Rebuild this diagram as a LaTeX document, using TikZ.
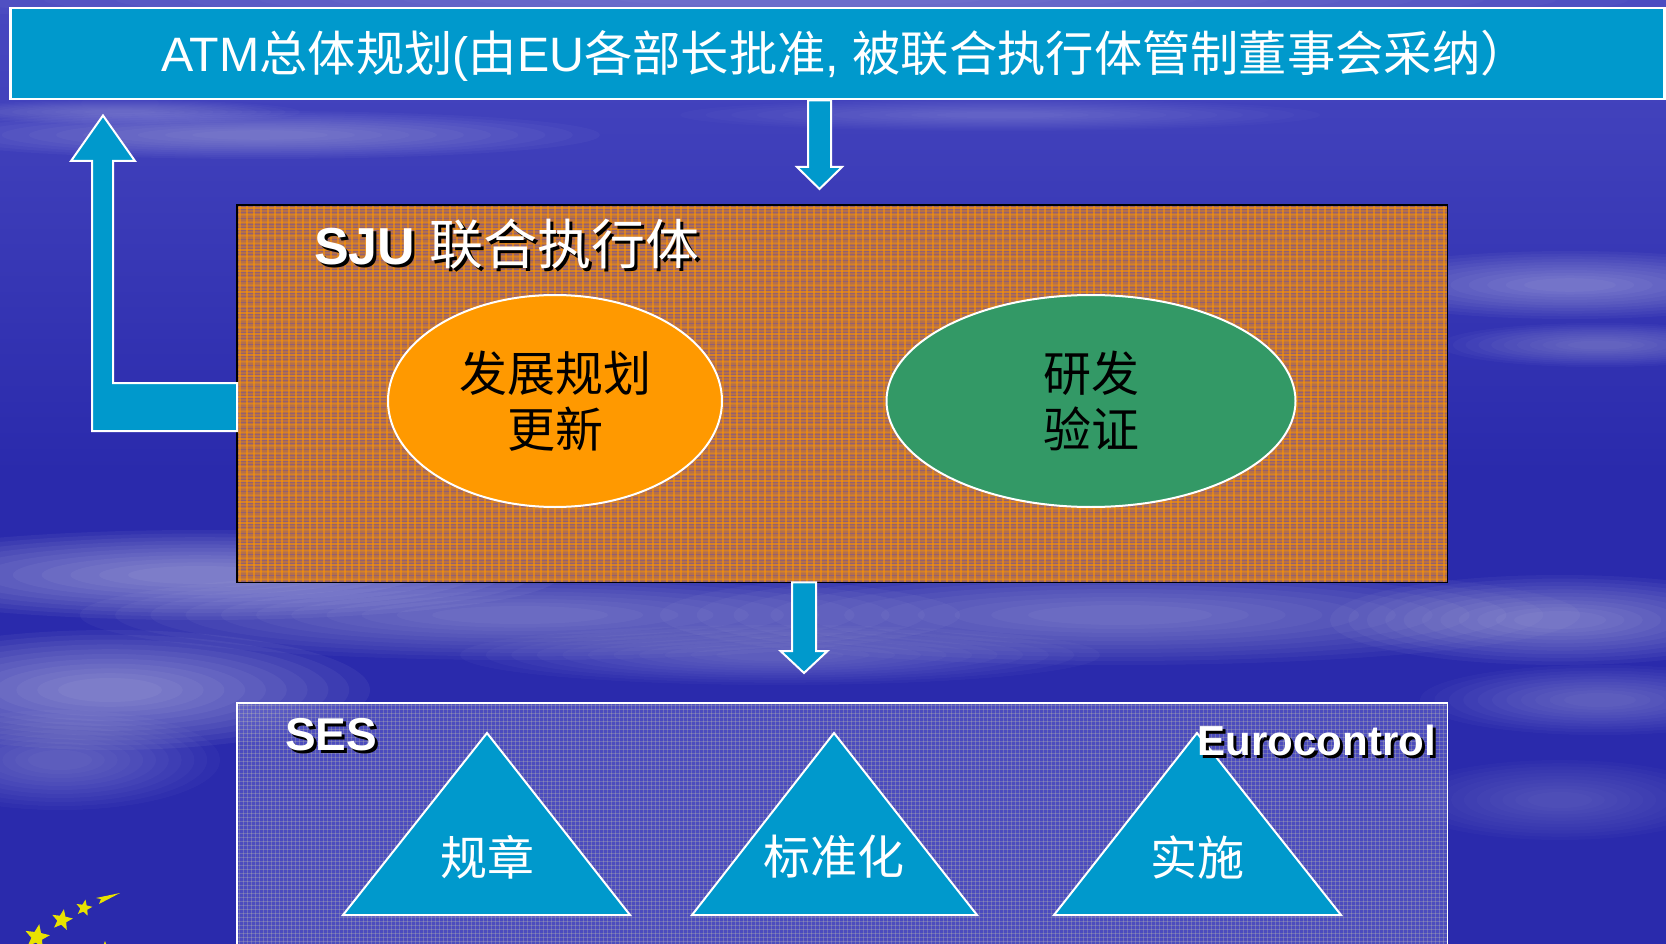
\documentclass[tikz,border=0pt]{standalone}
\usepackage{fontspec}
\setmainfont{Liberation Sans}
\newfontfamily\cjk{Noto Sans CJK SC}
\usetikzlibrary{shapes.geometric,calc}
\definecolor{bgblue}{RGB}{42,42,172}
\definecolor{bgtop}{RGB}{72,72,192}
\definecolor{cyanbox}{RGB}{0,153,204}
\definecolor{orangeE}{RGB}{255,153,0}
\definecolor{greenE}{RGB}{51,153,102}
\definecolor{sjubase}{RGB}{182,112,72}
\definecolor{sjuline}{RGB}{112,82,160}
\definecolor{sjuorange}{RGB}{255,150,0}
\definecolor{sesbase}{RGB}{104,104,206}
\definecolor{sesline}{RGB}{232,232,170}
\definecolor{staryellow}{RGB}{232,226,0}
\newcommand\cloudpuff[5]{%
  \foreach \k in {1.0,0.92,...,0.15}{\fill[white,opacity=#5*0.4] (#1,#2) ellipse ({#3*\k} and {#4*\k});}}
\newcommand\blkdown[5]{%
  \draw[blockarrow] ($(#1)+(-#4,0)$) -- ($(#2)+(-#4,-#3)$) -- ($(#2)+(-#5,-#3)$) -- (#2)
    -- ($(#2)+(#5,-#3)$) -- ($(#2)+(#4,-#3)$) -- ($(#1)+(#4,0)$) -- cycle;}
\begin{document}
\begin{tikzpicture}[x=1pt,y=-1pt,
  blockarrow/.style={fill=cyanbox,draw=white,line width=2pt,line join=miter},
  tri/.style={fill=cyanbox,draw=white,line width=2pt,line join=miter},
  ell/.style={ellipse,draw=white,line width=2pt,minimum width=334,minimum height=212,
    align=center,inner sep=0,font=\cjk\fontsize{48}{56}\selectfont,text=black},
  tritext/.style={text=white,inner sep=0,font=\cjk\fontsize{47}{50}\selectfont},
  boldtitle/.style={inner sep=0,font=\bfseries},
  yellowstar/.style={star,star points=5,star point ratio=2.3,fill=staryellow,inner sep=0}]
\useasboundingbox (0,0) rectangle (1666,944);
\clip (0,0) rectangle (1666,944);
% background
\shade[top color=bgtop,bottom color=bgblue,middle color=bgblue] (0,0) rectangle (1666,944);
\cloudpuff{800}{0}{900}{30}{0.06}
\cloudpuff{260}{135}{340}{24}{0.08}
\cloudpuff{120}{112}{180}{12}{0.06}
\cloudpuff{1000}{115}{320}{16}{0.05}
\cloudpuff{1570}{285}{230}{34}{0.09}
\cloudpuff{1600}{345}{160}{22}{0.07}
\cloudpuff{200}{575}{360}{45}{0.12}
\cloudpuff{520}{615}{440}{45}{0.09}
\cloudpuff{1120}{615}{460}{50}{0.09}
\cloudpuff{780}{655}{320}{30}{0.07}
\cloudpuff{110}{690}{260}{60}{0.12}
\cloudpuff{60}{760}{160}{50}{0.07}
\cloudpuff{1560}{620}{230}{45}{0.10}
\cloudpuff{1600}{700}{180}{35}{0.07}
\cloudpuff{1560}{800}{160}{40}{0.05}
% top bar
\node[draw=white,line width=2.5pt,fill=cyanbox,minimum width=1654,minimum height=91,
  inner sep=0,anchor=north west] (atm) at (9,7) {};
\node[anchor=base,text=white,inner sep=0,font=\fontsize{48.3}{50}\selectfont] (atmtext) at (845,72)
  {ATM{\cjk 总体规划}({\cjk 由}EU{\cjk 各部长批准}, {\cjk 被联合执行体管制董事会采纳）}};
% SJU box
\node[fill=sjubase,minimum width=1210,minimum height=377,inner sep=0,anchor=north west] (sju) at (237,205) {};
\begin{scope}
  \clip (sju.south west) rectangle (sju.north east);
  \foreach \y in {206,209,...,582} {\draw[sjuline,opacity=0.5,line width=0.9pt] (237,\y) -- (1447,\y);}
  \foreach \x in {240,247,...,1447} {\draw[sjuorange,opacity=0.55,line width=1.1pt] (\x,205) -- (\x,582);}
  \foreach \y in {208,215,...,582} {\draw[sjuorange,opacity=0.45,line width=1.1pt] (237,\y) -- (1447,\y);}
\end{scope}
\draw[black,line width=1.8pt] (sju.south west) rectangle (sju.north east);
% SES box
\node[fill=sesbase,fill opacity=0.55,minimum width=1210,minimum height=260,inner sep=0,anchor=north west] (ses) at (237,703) {};
\begin{scope}
  \clip (ses.south west) rectangle (ses.north east);
  \foreach \y in {705,709,...,944} {\draw[sesline,opacity=0.22,line width=0.8pt] (237,\y) -- (1447,\y);}
  \foreach \x in {239,243,...,1447} {\draw[sesline,opacity=0.22,line width=0.8pt] (\x,703) -- (\x,944);}
\end{scope}
\draw[white,line width=1.5pt] (ses.south west) rectangle (ses.north east);
% arrows
\coordinate (a1top) at (atm.south -| 819.5,0);
\coordinate (a1tip) at ($(sju.north -| 819.5,0)+(0,-16)$);
\blkdown{a1top}{a1tip}{22}{11.5}{22.5}
\coordinate (a2top) at (sju.south -| 804,0);
\coordinate (a2tip) at ($(ses.north -| 804,0)+(0,-30)$);
\blkdown{a2top}{a2tip}{22}{12}{23.5}
\coordinate (ltip) at ($(atm.south -| 103,0)+(0,15)$);
\draw[blockarrow] (sju.west |- 0,383) -- (113,383) -- (113,161) -- (135,161) -- (ltip)
  -- (71,161) -- (92,161) -- (92,431) -- (sju.west |- 0,431) -- cycle;
% titles with shadow
\node[boldtitle,anchor=base west,text=black,font=\fontsize{52}{56}\selectfont\bfseries] (sjush) at (317,268) {SJU {\cjk\mdseries\fontsize{54}{56}\selectfont 联合执行体}};
\node[boldtitle,anchor=base west,text=white,font=\fontsize{52}{56}\selectfont\bfseries] (sjut) at (314,265) {SJU {\cjk\mdseries\fontsize{54}{56}\selectfont 联合执行体}};
% ellipses
\node[ell,fill=orangeE] (e1) at (555,401) {发展规划\\更新};
\node[ell,fill=greenE,minimum width=409] (e2) at (1091,401) {研发\\验证};
% triangles
\draw[tri] (487,733) -- (630,915) -- (343,915) -- cycle;
\node[tritext] (t1) at (487,857) {规章};
\draw[tri] (834,733) -- (977,915) -- (692,915) -- cycle;
\node[tritext] (t2) at (834,857) {标准化};
\draw[tri] (1197,733) -- (1341,915) -- (1054,915) -- cycle;
\node[tritext] (t3) at (1197,857) {实施};
\node[boldtitle,anchor=base west,text=black,font=\fontsize{46}{50}\selectfont\bfseries] (sessh) at (288,753) {SES};
\node[boldtitle,anchor=base west,text=white,font=\fontsize{46}{50}\selectfont\bfseries] (sest) at (285,750) {SES};
\node[boldtitle,anchor=base east,text=black,font=\fontsize{42}{46}\selectfont\bfseries] (eush) at (1439,758) {Eurocontrol};
\node[boldtitle,anchor=base east,text=white,font=\fontsize{42}{46}\selectfont\bfseries] (eut) at (1436,755) {Eurocontrol};
% stars
\node[yellowstar,minimum size=26,rotate=-10] (s1) at (37,937) {};
\node[yellowstar,minimum size=22,rotate=-10] (s2) at (62,920) {};
\node[yellowstar,minimum size=17,rotate=-10] (s3) at (84,908) {};
\node[yellowstar,minimum size=12] (s4) at (105,947) {};
\fill[staryellow] (96,898) -- (120,893) -- (99,904) -- (101,899) -- cycle;
\end{tikzpicture}
\end{document}
